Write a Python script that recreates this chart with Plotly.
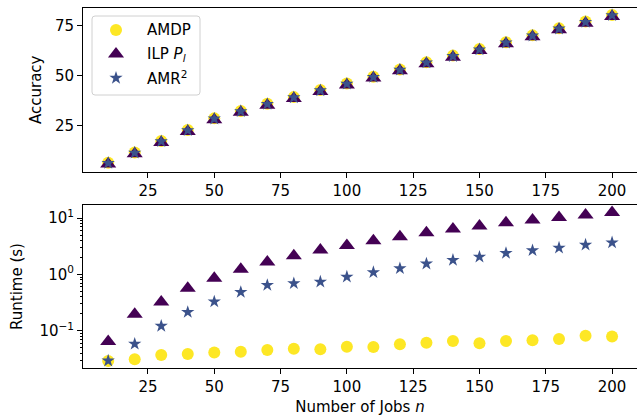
import plotly.graph_objects as go

n = [10, 20, 30, 40, 50, 60, 70, 80, 90, 100, 110, 120, 130, 140, 150, 160, 170, 180, 190, 200]

acc_amdp = [6.7, 11.8, 17.5, 23.0, 28.8, 32.5, 36.1, 39.4, 42.9, 46.2, 49.6, 53.2, 56.8, 60.1, 63.4, 66.8, 70.2, 73.8, 77.1, 80.4]
acc_ilp = [6.0, 11.1, 16.8, 22.3, 28.1, 31.8, 35.4, 38.7, 42.2, 45.5, 48.9, 52.5, 56.1, 59.3, 62.6, 66.0, 69.5, 73.0, 76.3, 79.6]
acc_amr = [6.5, 11.6, 17.3, 22.8, 28.6, 32.3, 35.9, 39.2, 42.7, 46.0, 49.4, 53.0, 56.6, 59.8, 63.1, 66.5, 70.0, 73.5, 76.8, 80.2]

rt_amdp = [0.029, 0.031, 0.037, 0.0385, 0.041, 0.042, 0.0454, 0.0478, 0.0467, 0.0519, 0.0513, 0.0573,
           0.061, 0.0656, 0.0600, 0.0656, 0.0675, 0.0711, 0.0815, 0.0785]
rt_ilp = [0.064, 0.196, 0.324, 0.567, 0.855, 1.23, 1.67, 2.14, 2.71, 3.28, 3.96, 4.67, 5.50, 6.45,
          7.25, 8.28, 9.25, 10.3, 11.4, 12.6]
rt_amr = [0.0292, 0.058, 0.121, 0.213, 0.328, 0.484, 0.645, 0.692, 0.738, 0.906, 1.09, 1.28, 1.55,
          1.80, 2.05, 2.39, 2.67, 2.97, 3.36, 3.68]

x_ticks = [25, 50, 75, 100, 125, 150, 175, 200]
acc_ticks = [25, 50, 75]
rt_ticks = [0.1, 1, 10]
rt_ticktext = ["10<sup>\u22121</sup>", "10<sup>0</sup>", "10<sup>1</sup>"]

names = ["AMDP", "ILP <i>P<sub>l</sub></i>", "AMR<sup>2</sup>"]
colors = ["#fde725", "#440154", "#3b528b"]
symbols = ["circle", "triangle-up", "star"]
sizes = [12, 14, 10]

FONT = "DejaVu Sans"
FS = 15
W, H = 637, 418
ML, MR, MT, MB = 83, 0, 8, 50
fig = go.Figure()

acc = [acc_amdp, acc_ilp, acc_amr]
rt = [rt_amdp, rt_ilp, rt_amr]
for i in range(3):
    fig.add_trace(go.Scatter(x=n, y=acc[i], mode="markers", name=names[i], showlegend=False,
                             marker=dict(color=colors[i], symbol=symbols[i], size=sizes[i], opacity=1,
                                         line=dict(width=0)),
                             xaxis="x", yaxis="y"))
for i in range(3):
    fig.add_trace(go.Scatter(x=n, y=rt[i], mode="markers", name=names[i], showlegend=False,
                             marker=dict(color=colors[i], symbol=symbols[i], size=sizes[i], opacity=1,
                                         line=dict(width=0)),
                             xaxis="x2", yaxis="y2"))

# ---- hand-built legend on a pixel-coordinate overlay axis ----
leg_left, leg_right, leg_top, leg_bot = 92, 200, 16, 95
leg_marker_x, leg_text_x = 116, 145
leg_rows = [30, 54, 78]
r = 3
path = (f"M{leg_left + r},{leg_top} L{leg_right - r},{leg_top} Q{leg_right},{leg_top} {leg_right},{leg_top + r} "
        f"L{leg_right},{leg_bot - r} Q{leg_right},{leg_bot} {leg_right - r},{leg_bot} "
        f"L{leg_left + r},{leg_bot} Q{leg_left},{leg_bot} {leg_left},{leg_bot - r} "
        f"L{leg_left},{leg_top + r} Q{leg_left},{leg_top} {leg_left + r},{leg_top} Z")
fig.add_shape(type="path", path=path, xref="x3", yref="y3", layer="below",
              fillcolor="rgba(0,0,0,0)", line=dict(color="#d0d0d0", width=1))
fig.add_trace(go.Scatter(x=[leg_marker_x] * 3, y=leg_rows, mode="markers", showlegend=False, hoverinfo="skip",
                         marker=dict(color=colors, symbol=symbols, size=sizes, opacity=1, line=dict(width=0)),
                         xaxis="x3", yaxis="y3"))
for i in range(3):
    fig.add_annotation(x=leg_text_x, y=leg_rows[i], xref="x3", yref="y3", text=names[i], showarrow=False,
                       xanchor="left", yanchor="middle", font=dict(family=FONT, size=FS, color="black"))

# ---- y-axis titles placed as in the reference ----
pw, ph = W - ML - MR, H - MT - MB
fig.add_annotation(x=(36 - ML) / pw, y=(H - MB - 90) / ph, xref="paper", yref="paper", text="Accuracy",
                   textangle=-90, showarrow=False, xanchor="center", yanchor="middle",
                   font=dict(family=FONT, size=FS, color="black"))
fig.add_annotation(x=(17 - ML) / pw, y=(H - MB - 287) / ph, xref="paper", yref="paper", text="Runtime (s)",
                   textangle=-90, showarrow=False, xanchor="center", yanchor="middle",
                   font=dict(family=FONT, size=FS, color="black"))

minor_vals = [k * 10.0 ** e for e in (-2, -1, 0, 1) for k in range(2, 10)]

axis_common = dict(showline=True, linecolor="black", linewidth=1, ticks="outside", ticklen=5,
                   tickcolor="black", tickwidth=1, showgrid=False, zeroline=False,
                   tickfont=dict(family=FONT, size=FS, color="black"))

fig.update_layout(
    width=W, height=H,
    margin=dict(l=ML, r=MR, t=MT, b=MB),
    plot_bgcolor="rgba(0,0,0,0)", paper_bgcolor="white",
    font=dict(family=FONT, size=FS, color="black"),
    showlegend=False,
    xaxis=dict(domain=[0, 1], anchor="y", range=[0.5, 209.4], tickvals=x_ticks, mirror=True, **axis_common),
    yaxis=dict(domain=[0.545, 1], anchor="x", range=[2.15, 83.85], tickvals=acc_ticks, **axis_common),
    xaxis2=dict(domain=[0, 1], anchor="y2", range=[0.5, 209.4], tickvals=x_ticks, mirror=True,
                title=dict(text="Number of Jobs <i>n</i>", font=dict(family=FONT, size=FS), standoff=6),
                **axis_common),
    yaxis2=dict(domain=[0, 0.453], anchor="x2", type="log", range=[-1.664, 1.236],
                tickvals=rt_ticks, ticktext=rt_ticktext,
                minor=dict(tickvals=minor_vals, ticks="outside", ticklen=2.5, tickcolor="black", tickwidth=0.8),
                **axis_common),
    xaxis3=dict(domain=[0, 1], anchor="y3", range=[ML, W - MR], visible=False, fixedrange=True),
    yaxis3=dict(domain=[0, 1], anchor="x3", range=[H - MB, MT], visible=False, fixedrange=True),
)

fig.write_html("out.html")
